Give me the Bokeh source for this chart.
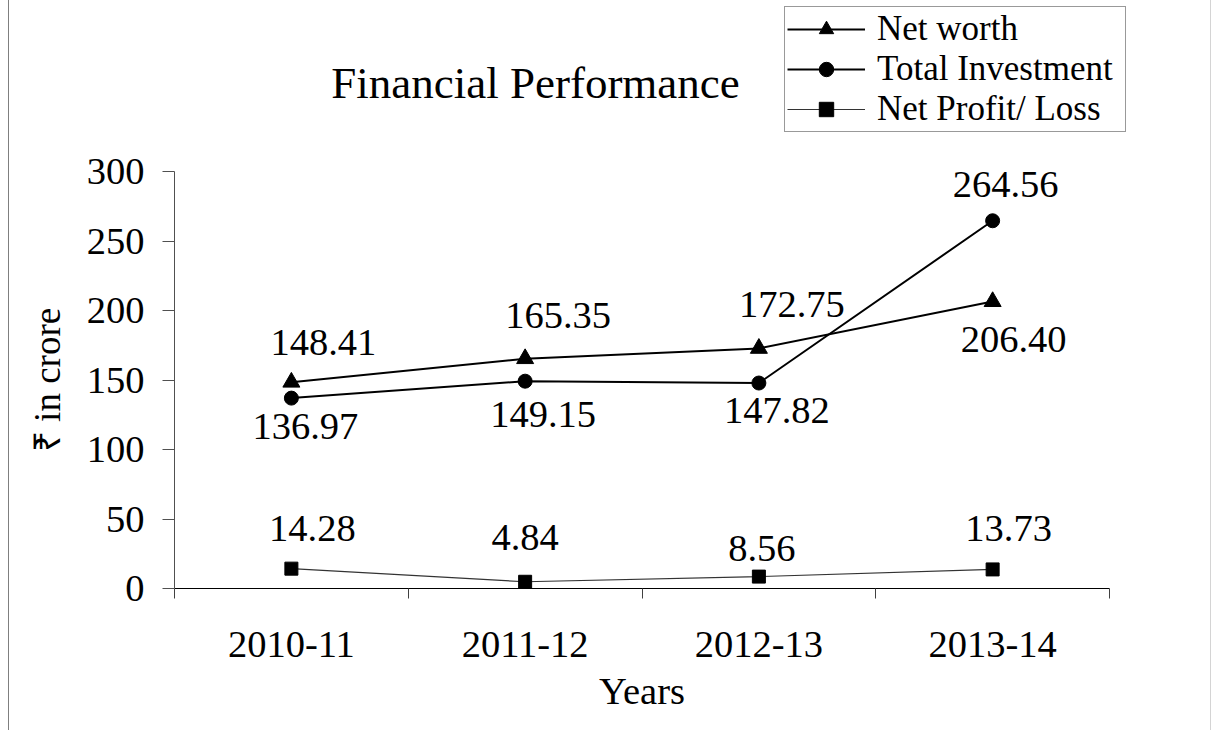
from bokeh.plotting import figure
from bokeh.layouts import column
from bokeh.models import (Range1d, FixedTicker, Legend, LegendItem, Label, ColumnDataSource)
from bokeh.embed import file_html
from bokeh.resources import INLINE
from bokeh.core.properties import value

# ---- data ----
years = ["2010-11", "2011-12", "2012-13", "2013-14"]
net_worth = [148.41, 165.35, 172.75, 206.40]
total_investment = [136.97, 149.15, 147.82, 264.56]
net_profit = [14.28, 4.84, 8.56, 13.73]
y_ticks = [0, 50, 100, 150, 200, 250, 300]
Y_MAX = 300
series_names = ["Net worth", "Total Investment", "Net Profit/ Loss"]
title_text = "Financial Performance"
x_title = "Years"
y_title = "₹ in crore"

# ---- label placement (screen px offsets, style only) ----
nw_off = [(32, -40), (33, -43), (33, -44), (21, 38)]
ti_off = [(14, 28), (18, 33), (18, 27), (13, -36)]
np_off = [(21, -40), (0, -44), (3, -28), (16, -41)]

FONT = "Liberation Serif"
FS = "38.5px"

# ---- layout geometry (page pixels) ----
MARGIN_L = 8
W = 1201
PAGE_R = MARGIN_L + W
TOP_H = 151                  # header strip (title + legend): page 0..151
MID_H = 519                  # chart: page 151..670
BOT_H = 60                   # footer (x title): page 670..730
AX_L, AX_R = 173, 1108       # x axis extent on page
AX_T, AX_B = 171, 588        # y axis extent on page (300 .. 0)
FRAME_L = AX_L - MARGIN_L    # left border inside each canvas

n = len(years)
xs = [i + 0.5 for i in range(n)]
x_end = n + (PAGE_R - AX_R) * n / (AX_R - AX_L)


def bare_fig(height, y_range):
    f = figure(width=W, height=height, output_backend="svg", toolbar_location=None,
               x_range=Range1d(0, x_end), y_range=y_range,
               x_axis_location=None, y_axis_location=None,
               min_border=0, min_border_left=FRAME_L, min_border_right=0)
    f.outline_line_color = None
    f.xgrid.grid_line_color = None
    f.ygrid.grid_line_color = None
    f.background_fill_color = "white"
    f.border_fill_color = "white"
    return f


# ---------------- chart ----------------
p = figure(width=W, height=MID_H, output_backend="svg", toolbar_location=None,
           x_range=Range1d(0, x_end), y_range=Range1d(0, Y_MAX),
           min_border=0, min_border_left=FRAME_L, min_border_right=0,
           min_border_top=AX_T - TOP_H, min_border_bottom=(TOP_H + MID_H) - AX_B)
p.outline_line_color = None
p.xgrid.grid_line_color = None
p.ygrid.grid_line_color = None
p.background_fill_color = "white"
p.border_fill_color = "white"

# x axis
p.xaxis.bounds = (0, n)
p.xaxis.ticker = FixedTicker(ticks=xs, minor_ticks=list(range(n + 1)))
p.xaxis.major_label_overrides = {x: y for x, y in zip(xs, years)}
p.xaxis.major_tick_out = 0
p.xaxis.major_tick_in = 0
p.xaxis.minor_tick_out = 10
p.xaxis.minor_tick_in = 0
p.xaxis.minor_tick_line_color = "#404040"
p.xaxis.axis_line_color = "black"
p.xaxis.major_label_standoff = 33
p.xaxis.major_label_text_font = FONT
p.xaxis.major_label_text_font_size = FS
p.xaxis.major_label_text_color = "black"

# y axis
p.yaxis.ticker = FixedTicker(ticks=y_ticks, minor_ticks=[])
p.yaxis.major_tick_out = 12
p.yaxis.major_tick_in = 0
p.yaxis.major_tick_line_color = "#505050"
p.yaxis.axis_line_color = "#505050"
p.yaxis.major_label_standoff = 18
p.yaxis.major_label_text_font = FONT
p.yaxis.major_label_text_font_size = FS
p.yaxis.major_label_text_color = "black"
p.yaxis.axis_label = y_title
p.yaxis.axis_label_text_font = FONT
p.yaxis.axis_label_text_font_size = "37px"
p.yaxis.axis_label_text_font_style = "normal"
p.yaxis.axis_label_text_color = "black"
p.yaxis.axis_label_standoff = 16

STY = [
    dict(marker="triangle", size=17, lw=2, lc="black"),
    dict(marker="circle", size=14, lw=2, lc="black"),
    dict(marker="square", size=13, lw=1.2, lc="#333333"),
]


def draw_series(fig, vals, sty, visible=True):
    ln = fig.line(xs, vals, line_color=sty["lc"], line_width=sty["lw"], visible=visible)
    mk = fig.scatter(xs, vals, marker=sty["marker"], size=sty["size"],
                     fill_color="black", line_color="black", visible=visible)
    return ln, mk


all_series = [net_worth, total_investment, net_profit]
for vals, sty in zip(all_series, STY):
    draw_series(p, vals, sty)


def add_labels(vals, offs):
    src = ColumnDataSource(dict(
        x=xs, y=vals, t=["%.2f" % v for v in vals],
        dx=[o[0] for o in offs], dy=[o[1] for o in offs]))
    p.text(x="x", y="y", text="t", x_offset="dx", y_offset="dy", source=src,
           text_font=value(FONT), text_font_size=FS, text_color="black",
           text_align="center", text_baseline="middle")


add_labels(net_worth, nw_off)
add_labels(total_investment, ti_off)
add_labels(net_profit, np_off)

# ---------------- header strip: title + legend ----------------
h = bare_fig(TOP_H, Range1d(1000, 2000))

items = []
for name, vals, sty in zip(series_names, all_series, STY):
    ln, mk = draw_series(h, vals, sty, visible=False)
    items.append(LegendItem(label=name, renderers=[ln, mk]))

h.add_layout(Label(x=534 - AX_L, y=TOP_H - 82, x_units="screen", y_units="screen",
                   text=title_text, text_font=FONT, text_font_size="45px",
                   text_color="black", text_align="center", text_baseline="alphabetic"))

legend = Legend(items=items, location=(783 - AX_L, TOP_H - 132))
legend.label_text_font = FONT
legend.label_text_font_size = "35px"
legend.label_text_color = "black"
legend.glyph_width = 78
legend.glyph_height = 36
legend.label_standoff = 12
legend.label_width = 246
legend.padding = 2
legend.spacing = 0
legend.margin = 0
legend.border_line_color = "#333333"
legend.border_line_width = 1
legend.background_fill_color = "white"
legend.background_fill_alpha = 1
h.add_layout(legend, "center")

# ---------------- footer: x axis title ----------------
f = bare_fig(BOT_H, Range1d(0, 1))
f.add_layout(Label(x=(AX_L + AX_R) / 2 - AX_L, y=BOT_H - (690 - (TOP_H + MID_H)),
                   x_units="screen", y_units="screen",
                   text=x_title, text_font=FONT, text_font_size=FS,
                   text_color="black", text_align="center", text_baseline="middle"))

page = column(h, p, f, spacing=0,
              styles={"margin-left": "%dpx" % MARGIN_L,
                      "border-left": "1px solid #7f7f7f",
                      "border-right": "1px solid #d4d4d4"})

open("out.html", "w").write(file_html(page, INLINE))
